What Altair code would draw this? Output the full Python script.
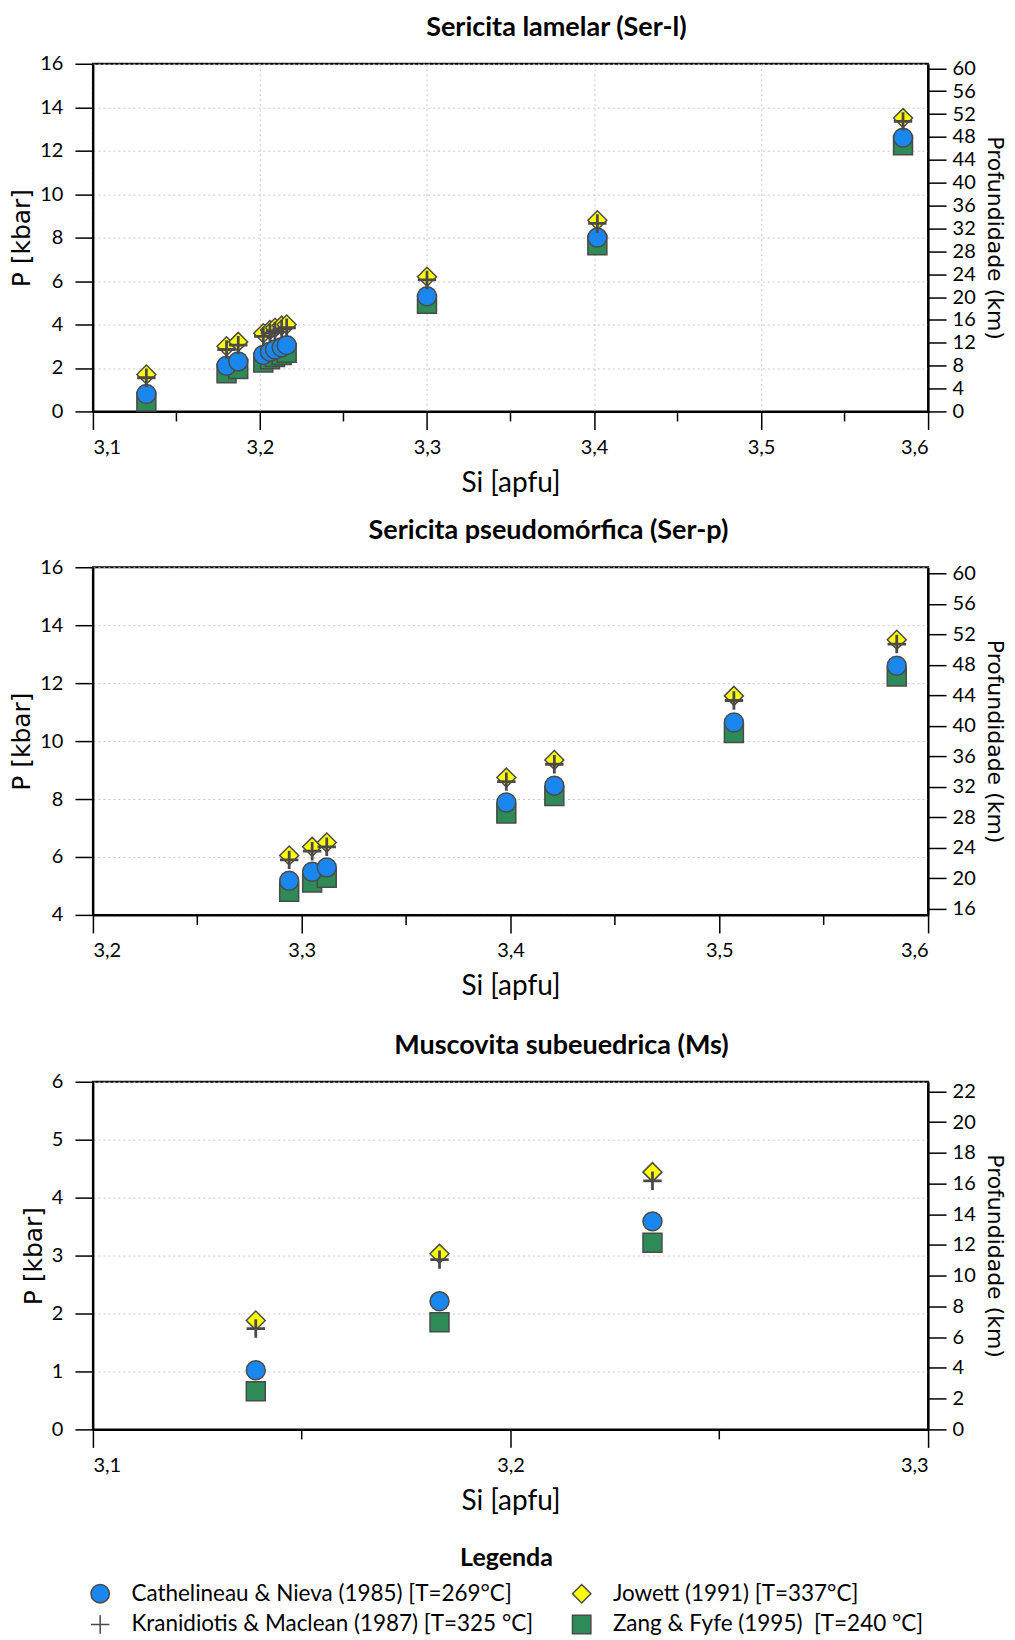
import altair as alt
import pandas as pd

# legend domain order (column-major fill: col1 = first two, col2 = last two)
SERIES = [
    "Cathelineau & Nieva (1985) [T=269°C]",
    "Kranidiotis & Maclean (1987) [T=325 °C]",
    "Jowett (1991) [T=337°C]",
    "Zang & Fyfe (1995)\u00a0 [T=240 °C]",
]
CATH, KRAN, JOW, ZANG = SERIES
FILLS = ["#1a87f0", "#4d4d4d", "#ffff00", "#2e8b57"]
SHAPES = ["circle", "M-1,0L1,0M0,-1L0,1", "diamond", "square"]

# --- Sericita lamelar (Ser-l)
serl_si = [3.132, 3.180, 3.187, 3.202, 3.206, 3.209, 3.213, 3.216, 3.300, 3.402, 3.585]
serl_cath = [0.80, 2.10, 2.30, 2.60, 2.75, 2.85, 2.95, 3.05, 5.30, 8.00, 12.60]
serl_jow = [1.70, 3.00, 3.20, 3.60, 3.75, 3.85, 3.95, 4.00, 6.20, 8.80, 13.50]
serl_kran = [1.55, 2.85, 3.05, 3.45, 3.60, 3.70, 3.80, 3.85, 6.05, 8.65, 13.35]
serl_zang = [0.45, 1.75, 1.95, 2.25, 2.40, 2.50, 2.60, 2.70, 4.95, 7.65, 12.25]

# --- Sericita pseudomórfica (Ser-p)
serp_si = [3.294, 3.305, 3.312, 3.398, 3.421, 3.507, 3.585]
serp_cath = [5.18, 5.49, 5.64, 7.88, 8.46, 10.64, 12.60]
serp_jow = [6.05, 6.35, 6.50, 8.74, 9.35, 11.56, 13.50]
serp_kran = [5.90, 6.20, 6.35, 8.60, 9.20, 11.40, 13.35]
serp_zang = [4.80, 5.12, 5.28, 7.50, 8.10, 10.28, 12.23]

# --- Muscovita subeuedrica (Ms)
ms_si = [3.139, 3.183, 3.234]
ms_cath = [1.02, 2.21, 3.59]
ms_jow = [1.88, 3.03, 4.44]
ms_kran = [1.74, 2.93, 4.29]
ms_zang = [0.66, 1.85, 3.22]

# axis ticks
serl_x = [3.1, 3.2, 3.3, 3.4, 3.5, 3.6]
serl_xminor = [3.15, 3.25, 3.35, 3.45, 3.55]
serl_y = [0, 2, 4, 6, 8, 10, 12, 14, 16]
serl_km = [0, 4, 8, 12, 16, 20, 24, 28, 32, 36, 40, 44, 48, 52, 56, 60]

serp_x = [3.2, 3.3, 3.4, 3.5, 3.6]
serp_xminor = [3.25, 3.35, 3.45, 3.55]
serp_y = [4, 6, 8, 10, 12, 14, 16]
serp_km = [16, 20, 24, 28, 32, 36, 40, 44, 48, 52, 56, 60]

ms_x = [3.1, 3.2, 3.3]
ms_xminor = [3.15, 3.25]
ms_y = [0, 1, 2, 3, 4, 5, 6]
ms_km = [0, 2, 4, 6, 8, 10, 12, 14, 16, 18, 20, 22]

W, H = 836, 348
STROKE = "#4a4a4a"

LEG = alt.Legend(
    title="Legenda", orient="none", legendX=-4, legendY=1484, columns=2,
    columnPadding=36, rowPadding=6, symbolSize=340, symbolStrokeColor=STROKE,
    symbolStrokeWidth=1.5, labelFont="Lato", labelFontSize=22.5, labelColor="black",
    titleFont="Lato", titleFontSize=25, titleFontWeight="bold", titleColor="black",
    titleAnchor="middle", titlePadding=11, labelLimit=0, labelOffset=20,
)
FILL = alt.Fill("serie:N", scale=alt.Scale(domain=SERIES, range=FILLS), legend=LEG)
SHAPE = alt.Shape("serie:N", scale=alt.Scale(domain=SERIES, range=SHAPES), legend=LEG)
STRK = alt.Stroke("serie:N", scale=alt.Scale(domain=SERIES, range=[STROKE] * 4), legend=LEG)


def panel(title, title_dx, si, cath, jow, kran, zang, xdom, xvals, xminor, ydom, yvals,
          kmdom, kmvals, xgrid):
    n = len(si)
    df = pd.DataFrame({
        "Si": si * 4,
        "P": cath + jow + kran + zang,
        "serie": [CATH] * n + [JOW] * n + [KRAN] * n + [ZANG] * n,
    })
    X = alt.X("Si:Q", scale=alt.Scale(domain=xdom, nice=False, zero=False),
              axis=alt.Axis(values=xvals, title="Si [apfu]", grid=xgrid,
                            labelExpr="replace(format(datum.value, '.1f'), '.', ',')",
                            tickSize=18, labelPadding=8, titlePadding=12,
                            titleFont="Lato", titleFontSize=28, titleFontWeight="normal"))
    Y = alt.Y("P:Q", scale=alt.Scale(domain=ydom, nice=False, zero=False),
              axis=alt.Axis(values=yvals, title="P [kbar]", grid=True, tickSize=18,
                            labelPadding=12, titlePadding=5,
                            titleFont="DejaVu Sans", titleFontSize=25,
                            titleFontWeight="normal"))

    def lay(name, size, sw):
        return alt.Chart(df).transform_filter(alt.datum.serie == name).mark_point(
            filled=True, size=size, strokeWidth=sw, opacity=1
        ).encode(x=X, y=Y, fill=FILL, shape=SHAPE, stroke=STRK)

    minor = alt.Chart(pd.DataFrame({"Si": xminor})).mark_rule(
        color="black", strokeWidth=1.5).encode(x=X, y=alt.value(H), y2=alt.value(H + 10))

    km = alt.Chart(pd.DataFrame({"km": kmvals})).mark_point(opacity=0).encode(
        y=alt.Y("km:Q", scale=alt.Scale(domain=kmdom, nice=False, zero=False),
                axis=alt.Axis(orient="right", values=kmvals, title="Profundidade (km)",
                              grid=False, tickSize=18, labelPadding=6, titlePadding=7,
                              titleFont="DejaVu Sans", titleFontSize=22,
                              titleFontWeight="normal")))

    pts = alt.layer(minor, lay(ZANG, 360, 1.5), lay(CATH, 360, 1.5),
                    lay(JOW, 360, 1.5), lay(KRAN, 340, 2.8))
    return alt.layer(pts, km).resolve_scale(y="independent").properties(
        width=W, height=H,
        title=alt.TitleParams(title, font="Lato", fontSize=27, fontWeight="bold",
                              anchor="middle", offset=12, dx=title_dx, color="black"))


p1 = panel("Sericita lamelar (Ser-l)", 46, serl_si, serl_cath, serl_jow, serl_kran, serl_zang,
           [3.1, 3.6], serl_x, serl_xminor, [0, 16], serl_y, [0, 60.8], serl_km, True)
p2 = panel("Sericita pseudomórfica (Ser-p)", 38, serp_si, serp_cath, serp_jow, serp_kran,
           serp_zang, [3.2, 3.6], serp_x, serp_xminor, [4, 16], serp_y, [15.2, 60.8],
           serp_km, False)
p3 = panel("Muscovita subeuedrica (Ms)", 51, ms_si, ms_cath, ms_jow, ms_kran, ms_zang,
           [3.1, 3.3], ms_x, ms_xminor, [0, 6], ms_y, [0, 22.62], ms_km, False)

top = alt.vconcat(p1, p2, spacing=18)
chart = alt.vconcat(top, p3, spacing=29).configure(
    padding={"top": 4, "left": 0, "right": 0, "bottom": 0}
).configure_view(
    stroke="black", strokeWidth=2
).configure_axis(
    domainColor="black", domainWidth=2, tickColor="black", tickWidth=1.5,
    labelFont="Lato", labelFontSize=20, labelColor="black", titleColor="black",
    gridColor="#c8c8c8", gridDash=[2, 3], gridWidth=1,
)

chart.save("out.html", embed_options={"renderer": "svg", "actions": False})
